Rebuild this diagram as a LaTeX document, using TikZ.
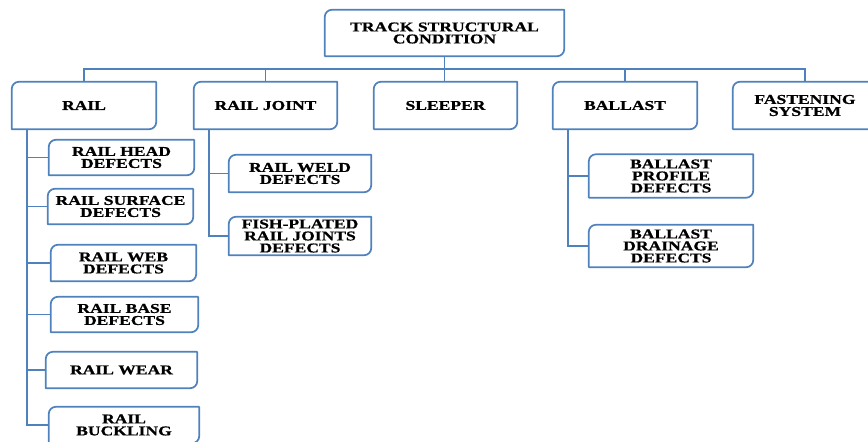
\documentclass[tikz,border=0pt]{standalone}
\usepackage{fontspec}
\setmainfont[FakeStretch=1.3, BoldFeatures={FakeBold=0.8}]{Liberation Serif}
\usetikzlibrary{calc}
\definecolor{boxblue}{HTML}{4F81BD}
\tikzset{
  dbox/.style={inner sep=0pt, align=center, font=\bfseries\fontsize{13.5}{12}\selectfont, text=black},
  boxline/.style={draw=boxblue, line width=1.7pt, line join=round},
  conn/.style={draw=boxblue, line width=1.6pt}
}
\begin{document}
\begin{tikzpicture}[x=1pt,y=1pt]
\useasboundingbox (0,0) rectangle (868,-442);
% level 0
\node[dbox, minimum width=239pt, minimum height=46pt] (top) at (444.5,-33) {TRACK STRUCTURAL\\CONDITION};
% level 1
\node[dbox, minimum width=144pt, minimum height=47pt] (rail) at (84,-105.5) {RAIL};
\node[dbox, minimum width=143pt, minimum height=47pt] (joint) at (265.5,-105.5) {RAIL JOINT};
\node[dbox, minimum width=143pt, minimum height=47pt] (sleeper) at (445.5,-105.5) {SLEEPER};
\node[dbox, minimum width=144pt, minimum height=47pt] (ballast) at (625,-105.5) {BALLAST};
\node[dbox, minimum width=144pt, minimum height=47pt] (fasten) at (805,-105.5) {FASTENING\\SYSTEM};
% rail children
\node[dbox, minimum width=145pt, minimum height=35pt] (head) at (121.5,-157.5) {RAIL HEAD\\DEFECTS};
\node[dbox, minimum width=145pt, minimum height=35pt] (surface) at (120.5,-206.5) {RAIL SURFACE\\DEFECTS};
\node[dbox, minimum width=145pt, minimum height=36pt] (web) at (123.5,-263) {RAIL WEB\\DEFECTS};
\node[dbox, minimum width=147pt, minimum height=35pt] (base) at (124.5,-314.5) {RAIL BASE\\DEFECTS};
\node[dbox, minimum width=151pt, minimum height=36pt] (wear) at (121.5,-370) {RAIL WEAR};
\node[dbox, minimum width=150pt, minimum height=36pt] (buckling) at (124,-425) {RAIL\\BUCKLING};
% joint children
\node[dbox, minimum width=142pt, minimum height=37pt] (weld) at (300,-173.5) {RAIL WELD\\DEFECTS};
\node[dbox, minimum width=142pt, minimum height=38pt] (fish) at (300,-236) {FISH-PLATED\\RAIL JOINTS\\DEFECTS};
% ballast children
\node[dbox, minimum width=164pt, minimum height=43pt] (profile) at (671,-176) {BALLAST\\PROFILE\\DEFECTS};
\node[dbox, minimum width=164pt, minimum height=42pt] (drain) at (671,-246) {BALLAST\\DRAINAGE\\DEFECTS};
% box outlines: rounded top-left and bottom-right corners
\foreach \n in {top,rail,joint,sleeper,ballast,fasten,head,surface,web,base,wear,buckling,weld,fish,profile,drain}{
  \draw[boxline] (\n.south west) -- ([yshift=-7pt]\n.north west)
    arc[start angle=180,end angle=90,radius=7pt] -- (\n.north east)
    -- ([yshift=7pt]\n.south east) arc[start angle=0,end angle=-90,radius=7pt] -- cycle;
}
% connectors
\coordinate (bus) at (0,-69);
\coordinate (rt) at (27,0);
\coordinate (jt) at (209,0);
\coordinate (bt) at (568,0);
\draw[conn] (top.south) -- (top.south |- sleeper.north);
\draw[conn] (rail.north) -- (rail.north |- bus) -- (fasten.north |- bus) -- (fasten.north);
\draw[conn] (joint.north) -- (joint.north |- bus);
\draw[conn] (ballast.north) -- (ballast.north |- bus);
\draw[conn] (rail.south -| rt) |- (buckling.west);
\foreach \c in {head,surface,web,base,wear}{
  \draw[conn] (rt |- \c.west) -- (\c.west);
}
\draw[conn] (joint.south -| jt) |- (fish.west);
\draw[conn] (jt |- weld.west) -- (weld.west);
\draw[conn] (ballast.south -| bt) |- (drain.west);
\draw[conn] (bt |- profile.west) -- (profile.west);
\end{tikzpicture}
\end{document}
